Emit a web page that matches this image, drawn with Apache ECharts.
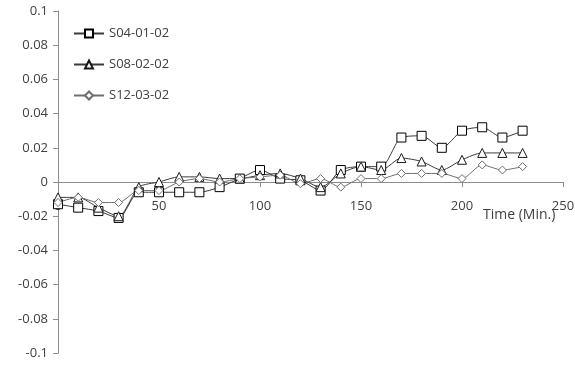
<!DOCTYPE html>
<html>
<head>
<meta charset="utf-8">
<script src="https://cdn.jsdelivr.net/npm/echarts@6/dist/echarts.min.js"></script>
<style>
  html, body { margin: 0; padding: 0; background: #fff; }
  #chart { width: 575px; height: 367px; }
</style>
</head>
<body>
<div id="chart"></div>
<script>
// Sampling times (minutes)
const times = [0, 10, 20, 30, 40, 50, 60, 70, 80, 90, 100, 110, 120, 130, 140, 150, 160, 170, 180, 190, 200, 210, 220, 230];

// Measured values for each specimen
const s04 = [-0.013, -0.015, -0.017, -0.021, -0.006, -0.006, -0.006, -0.006, -0.003, 0.002, 0.007, 0.002, 0.001, -0.005, 0.007, 0.009, 0.009, 0.026, 0.027, 0.020, 0.030, 0.032, 0.026, 0.030];
const s08 = [-0.009, -0.009, -0.015, -0.020, -0.003, 0.000, 0.003, 0.003, 0.002, 0.002, 0.004, 0.005, 0.002, -0.003, 0.005, 0.009, 0.007, 0.014, 0.012, 0.007, 0.013, 0.017, 0.017, 0.017];
const s12 = [-0.012, -0.009, -0.012, -0.012, -0.005, -0.005, 0.000, 0.002, 0.000, 0.002, 0.003, 0.004, -0.001, 0.002, -0.003, 0.002, 0.002, 0.005, 0.005, 0.005, 0.002, 0.010, 0.007, 0.009];

const seriesNames = ['S04-01-02', 'S08-02-02', 'S12-03-02'];
const xTicks = [0, 50, 100, 150, 200, 250];
const yTicks = [-0.1, -0.08, -0.06, -0.04, -0.02, 0, 0.02, 0.04, 0.06, 0.08, 0.1];

const textColor = '#404040';
const pair = arr => arr.map((v, i) => [times[i], v]);

// Plot area: the time axis sits on the zero line, halfway up the grid
const gridTop = 11, gridBottom = 14, chartHeight = 367;
const zeroOffset = -(chartHeight - gridTop - gridBottom) / 2;

const chart = echarts.init(document.getElementById('chart'), null, { renderer: 'canvas' });

function lineSeries(name, data, symbol, size, lineColor, markColor) {
  return {
    name: name,
    type: 'line',
    data: pair(data),
    smooth: 0.25,
    symbol: symbol,
    symbolSize: size,
    showAllSymbol: true,
    lineStyle: { color: lineColor, width: 1 },
    itemStyle: { color: '#ffffff', borderColor: markColor, borderWidth: 1 },
    emphasis: { disabled: true },
    animation: false
  };
}

chart.setOption({
  backgroundColor: '#ffffff',
  animation: false,
  grid: { left: 58, right: 12, top: gridTop, bottom: gridBottom, containLabel: false, outerBoundsMode: 'none' },
  legend: {
    orient: 'vertical',
    left: 68,
    top: 22,
    itemGap: 18,
    itemWidth: 30,
    itemHeight: 10,
    data: seriesNames,
    textStyle: { color: textColor, fontFamily: 'Open Sans', fontSize: 13 }
  },
  xAxis: {
    type: 'value',
    position: 'bottom',
    offset: zeroOffset,
    min: xTicks[0],
    max: xTicks[xTicks.length - 1],
    interval: 50,
    axisLine: { onZero: false, lineStyle: { color: '#8c8c8c', width: 1 } },
    axisTick: { show: true, inside: false, length: 5, lineStyle: { color: '#8c8c8c' } },
    axisLabel: {
      color: textColor, fontFamily: 'Open Sans', fontSize: 13, margin: 18,
      formatter: v => String(v)
    },
    splitLine: { show: false }
  },
  yAxis: {
    type: 'value',
    min: yTicks[0],
    max: yTicks[yTicks.length - 1],
    interval: 0.02,
    axisLine: { show: true, onZero: false, lineStyle: { color: '#8c8c8c', width: 1 } },
    axisTick: { show: true, length: 5, lineStyle: { color: '#8c8c8c' } },
    axisLabel: {
      color: textColor, fontFamily: 'Open Sans', fontSize: 13, margin: 10,
      formatter: v => {
        const r = Math.round(v * 100) / 100;
        return r === 0 ? '0' : String(r);
      }
    },
    splitLine: { show: false }
  },
  graphic: [{
    type: 'text',
    left: 483,
    top: 208,
    style: { text: 'Time (Min.)', fill: textColor, font: '14px "Open Sans"' },
    silent: true
  }],
  series: [
    lineSeries(seriesNames[0], s04, 'rect', 9, '#3a3a3a', '#000000'),
    lineSeries(seriesNames[1], s08, 'triangle', 9, '#3a3a3a', '#1a1a1a'),
    lineSeries(seriesNames[2], s12, 'diamond', 8, '#6e6e6e', '#6e6e6e')
  ]
});
</script>
</body>
</html>
